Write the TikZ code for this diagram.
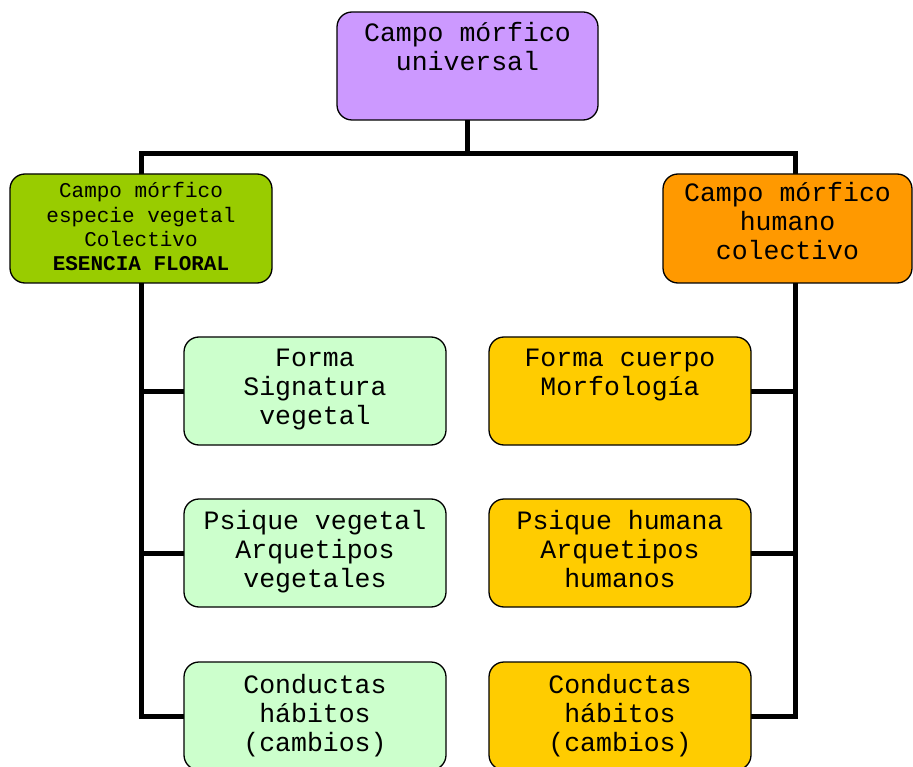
\documentclass[tikz,border=0pt]{standalone}
\usepackage{fontspec}
\setmainfont{Liberation Mono}
\usetikzlibrary{backgrounds}
\definecolor{cviolet}{HTML}{CC99FF}
\definecolor{cgreen}{HTML}{99CC00}
\definecolor{corange}{HTML}{FF9900}
\definecolor{clight}{HTML}{CCFFCC}
\definecolor{cyellow}{HTML}{FFCC00}
\newcommand{\bigfont}{\fontsize{26.5}{29}\selectfont}
\newcommand{\smallfont}{\fontsize{21}{24.2}\selectfont}
% #1 width, #2 height, #3 first baseline, #4 text
\newcommand{\btxt}[4]{\parbox[c][#2][t]{#1}{\centering\rule{0pt}{#3}#4}}
\begin{document}
\begin{tikzpicture}[x=1pt,y=-1pt,
  boxstyle/.style={draw=black, line width=1.3pt, rounded corners=15pt, inner sep=0pt, outer sep=0pt},
  conn/.style={line width=5pt, draw=black}]
\useasboundingbox (0,0) rectangle (913,767);
% coordinates
\coordinate (hl) at (141,154);
\coordinate (hr) at (795,154);
% nodes (positions)
\path
 (467.5,66) node[boxstyle, fill=cviolet] (top) {\btxt{261pt}{108pt}{30pt}{\bigfont Campo mórfico\\universal}}
 (141,228.5) node[boxstyle, fill=cgreen] (gd) {\btxt{262pt}{109pt}{24pt}{\smallfont Campo mórfico\\especie vegetal\\Colectivo\\\textbf{ESENCIA FLORAL}}}
 (787.5,228.5) node[boxstyle, fill=corange] (oh) {\btxt{249pt}{109pt}{28pt}{\bigfont Campo mórfico\\humano\\colectivo}}
 (315,391) node[boxstyle, fill=clight] (g1) {\btxt{262pt}{108pt}{29pt}{\bigfont Forma\\Signatura\\vegetal}}
 (315,553) node[boxstyle, fill=clight] (g2) {\btxt{262pt}{108pt}{30pt}{\bigfont Psique vegetal\\Arquetipos\\vegetales}}
 (315,716) node[boxstyle, fill=clight] (g3) {\btxt{262pt}{108pt}{31pt}{\bigfont Conductas\\hábitos\\(cambios)}}
 (620,391) node[boxstyle, fill=cyellow] (h1) {\btxt{262pt}{108pt}{29pt}{\bigfont Forma cuerpo\\Morfología}}
 (620,553) node[boxstyle, fill=cyellow] (h2) {\btxt{262pt}{108pt}{30pt}{\bigfont Psique humana\\Arquetipos\\humanos}}
 (620,716) node[boxstyle, fill=cyellow] (h3) {\btxt{262pt}{108pt}{31pt}{\bigfont Conductas\\hábitos\\(cambios)}};
% connectors
\begin{scope}[on background layer]
\draw[conn] (top.south) -- (top.south |- hl);
\draw[conn] (gd.north) |- (hr) -- (hr |- oh.north);
\draw[conn] (gd.south) |- (g3.west);
\draw[conn] (gd.south |- g1.west) -- (g1.west);
\draw[conn] (gd.south |- g2.west) -- (g2.west);
\draw[conn] (hr |- oh.south) |- (h3.east);
\draw[conn] (hr |- h1.east) -- (h1.east);
\draw[conn] (hr |- h2.east) -- (h2.east);
\end{scope}
\end{tikzpicture}
\end{document}
